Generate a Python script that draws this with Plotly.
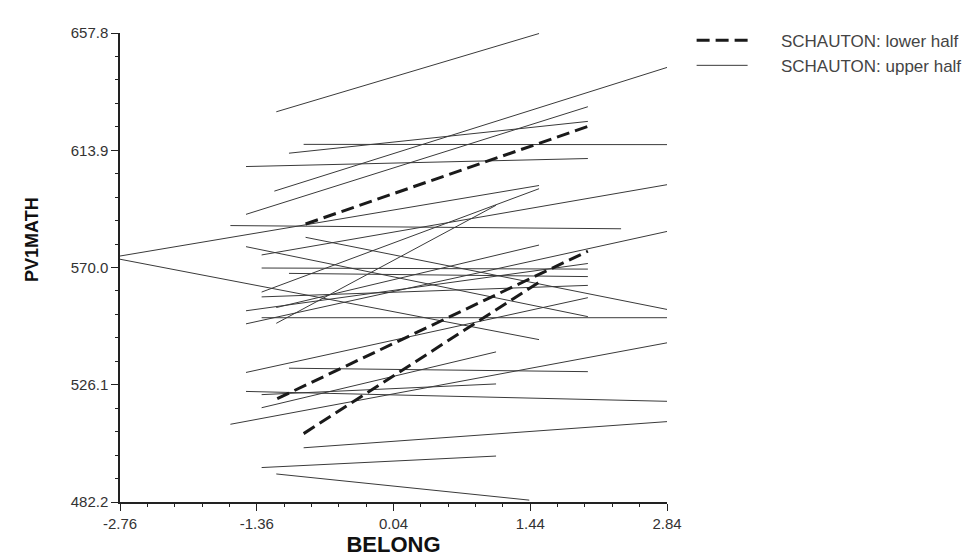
import plotly.graph_objects as go

# ---- data: one fitted line per school (BELONG range -> PV1MATH) ----
group = (["upper half"] * 30) + (["lower half"] * 3)
x_start = [-1.16, -0.88, -1.03, -1.47, -1.18, -1.47, -1.63, -2.76, -2.76, -0.86,
           -1.47, -1.31, -1.31, -1.03, -1.31, -1.31, -1.47, -1.16, -1.31, -1.47,
           -1.16, -1.47, -1.03, -1.47, -1.31, -1.31, -1.63, -0.88, -1.31, -1.16,
           -0.86, -1.15, -0.88]
x_end = [1.53, 2.84, 2.03, 2.03, 2.84, 2.03, 2.37, 1.53, 1.53, 2.84,
         2.03, 2.84, 2.03, 2.03, 1.53, 2.03, 2.03, 1.53, 2.84, 2.84,
         1.09, 2.03, 2.03, 2.84, 1.09, 1.09, 2.84, 2.84, 1.09, 1.43,
         2.03, 2.03, 1.53]
y_start = [628.3, 616.1, 612.8, 607.8, 598.6, 589.9, 585.7, 574.3, 573.1, 581.3,
           577.8, 574.7, 569.8, 567.8, 560.8, 559.0, 553.8, 555.0, 551.2, 548.9,
           549.1, 530.7, 532.3, 523.6, 522.4, 517.5, 511.3, 502.5, 495.1, 492.7,
           586.3, 520.9, 507.8]
y_end = [657.6, 616.0, 624.7, 610.8, 644.9, 630.2, 584.5, 600.7, 543.0, 554.3,
         551.6, 601.0, 569.4, 566.6, 599.5, 563.3, 571.5, 578.4, 551.2, 583.5,
         593.3, 558.7, 531.0, 519.9, 526.4, 538.4, 541.8, 512.3, 499.4, 482.9,
         622.8, 576.1, 564.5]

x_ticks = [-2.76, -1.36, 0.04, 1.44, 2.84]
y_ticks = [482.2, 526.1, 570.0, 613.9, 657.8]
x_tick_text = ["-2.76", "-1.36", "0.04", "1.44", "2.84"]
y_tick_text = ["482.2", "526.1", "570.0", "613.9", "657.8"]
series_names = {"lower half": "SCHAUTON: lower half", "upper half": "SCHAUTON: upper half"}

PAD = "\u00a0" * 6  # spacing between legend sample and its label


def segments(g):
    xs, ys = [], []
    for gi, x0, x1, y0, y1 in zip(group, x_start, x_end, y_start, y_end):
        if gi == g:
            xs += [x0, x1, None]
            ys += [y0, y1, None]
    return xs, ys


fig = go.Figure()
xu, yu = segments("upper half")
fig.add_trace(go.Scatter(x=xu, y=yu, mode="lines", name=PAD + series_names["upper half"],
                         line=dict(color="#3a3a3a", width=1), legendrank=2,
                         legendgroup="u", hoverinfo="skip"))
xl, yl = segments("lower half")
fig.add_trace(go.Scatter(x=xl, y=yl, mode="lines", name=PAD + series_names["lower half"],
                         line=dict(color="#1a1a1a", width=3, dash="13px,6px"), legendrank=1,
                         legendgroup="l", hoverinfo="skip"))

tickfont = dict(family="Liberation Sans, Arial, sans-serif", size=15, color="#333333")
axis_common = dict(showline=True, linecolor="#222222", linewidth=1.5, ticks="outside",
                   ticklen=7, tickwidth=1.2, tickcolor="#222222", showgrid=False,
                   zeroline=False, mirror=False, tickfont=tickfont, tickmode="array")

fig.update_xaxes(range=[-2.76, 2.84], tickvals=x_ticks, ticktext=x_tick_text,
                 minor=dict(dtick=0.28, tick0=-2.76, ticks="outside", ticklen=3.5,
                            tickwidth=1.2, tickcolor="#222222", showgrid=False),
                 title=dict(text="<b>BELONG</b>", standoff=6,
                            font=dict(family="Liberation Sans, Arial, sans-serif", size=22, color="#111111")),
                 **axis_common)
fig.update_yaxes(range=[482.2, 657.8], tickvals=y_ticks, ticktext=y_tick_text,
                 minor=dict(dtick=8.78, tick0=482.2, ticks="outside", ticklen=3.5,
                            tickwidth=1.2, tickcolor="#222222", showgrid=False),
                 **axis_common)

fig.add_annotation(text="<b>PV1MATH</b>", xref="paper", yref="paper",
                   x=-0.162, y=0.5595, xanchor="center", yanchor="middle",
                   textangle=-90, showarrow=False,
                   font=dict(family="Liberation Sans, Arial, sans-serif", size=18, color="#111111"))

fig.update_layout(
    width=971, height=557,
    margin=dict(l=112, r=304, t=25, b=55, pad=0),
    paper_bgcolor="white", plot_bgcolor="white",
    showlegend=True,
    legend=dict(x=1.045, xanchor="left", y=1.022, yanchor="top",
                font=dict(family="Liberation Sans, Arial, sans-serif", size=17, color="#444444"),
                itemwidth=51, tracegroupgap=0, bgcolor="rgba(0,0,0,0)",
                traceorder="grouped"),
)

fig.write_html("out.html")
